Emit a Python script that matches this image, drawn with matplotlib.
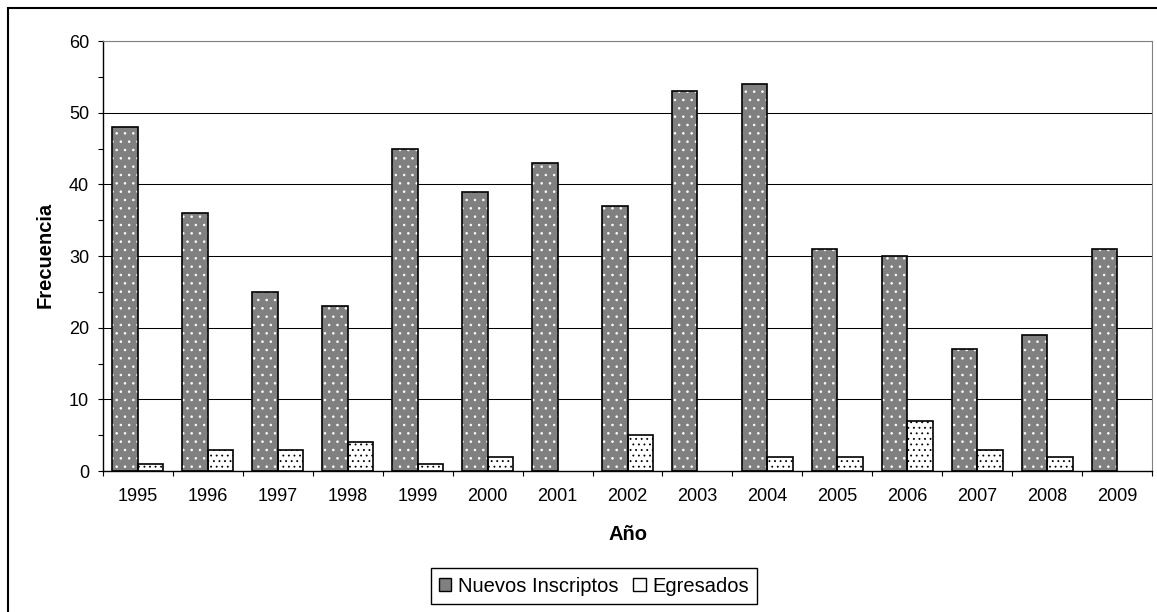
import numpy as np
import matplotlib.pyplot as plt
from matplotlib.patches import Patch, Rectangle

years = ['1995', '1996', '1997', '1998', '1999', '2000', '2001', '2002',
         '2003', '2004', '2005', '2006', '2007', '2008', '2009']
nuevos = [48, 36, 25, 23, 45, 39, 43, 37, 53, 54, 31, 30, 17, 19, 31]
egresados = [1, 3, 3, 4, 1, 2, 0, 5, 0, 2, 2, 7, 3, 2, 0]

plt.rcParams['font.family'] = ['Liberation Sans', 'DejaVu Sans']
plt.rcParams['hatch.linewidth'] = 0.6

W, H = 1157, 612
fig = plt.figure(figsize=(W / 100, H / 100), dpi=100)
ax = fig.add_axes([103 / W, 1 - 471 / H, (1152 - 103) / W, 430 / H])

x = np.arange(len(years))
w = 0.365

# fill + dots first, then the black outline on top (hatch takes the edge colour)
ax.bar(x - w / 2, nuevos, w, color='#808080', edgecolor='white', hatch='..', linewidth=0, zorder=2)
ax.bar(x - w / 2, nuevos, w, fill=False, edgecolor='black', linewidth=1.2, zorder=3)
eg = np.array(egresados)
ax.bar(x + w / 2, eg, w, color='white', edgecolor='black', hatch='...', linewidth=0, zorder=2)
ax.bar(x[eg > 0] + w / 2, eg[eg > 0], w, fill=False, edgecolor='black', linewidth=1.2, zorder=3)

ax.set_xlim(-0.5, len(years) - 0.5)
ax.set_ylim(0, 60)
ax.set_yticks(np.arange(0, 61, 10))
ax.set_yticks(np.arange(0, 61, 5), minor=True)
ax.yaxis.grid(True, which='major', color='black', linewidth=0.75, zorder=0)
ax.set_axisbelow(True)

# ticks on category borders, labels at the centres
ax.set_xticks(np.arange(-0.5, len(years), 1.0))
ax.set_xticklabels([])
ax.set_xticks(x, minor=True)
ax.set_xticklabels(years, minor=True, fontsize=13)
ax.tick_params(axis='x', which='major', direction='out', length=3.5, width=0.8)
ax.tick_params(axis='x', which='minor', length=0, pad=12)
ax.tick_params(axis='y', which='both', direction='out', length=3.5, width=0.8, labelsize=13, pad=6.5)

for s in ['top', 'right']:
    ax.spines[s].set_color('#808080')
for s in ['left', 'bottom']:
    ax.spines[s].set_color('black')
    ax.spines[s].set_linewidth(1.0)

fig.text(628 / W, 1 - 535 / H, 'Año', fontsize=14.5, fontweight='bold', ha='center', va='center')
fig.text(45.5 / W, 1 - 255 / H, 'Frecuencia', fontsize=14.5, fontweight='bold',
         rotation=90, ha='center', va='center')

handles = [Patch(facecolor='#808080', edgecolor='black', linewidth=1),
           Patch(facecolor='white', edgecolor='black', linewidth=1)]
fig.legend(handles, ['Nuevos Inscriptos', 'Egresados'], loc='center',
           bbox_to_anchor=(594 / W, 1 - 586 / H), ncol=2, fontsize=14.5,
           frameon=True, fancybox=False, edgecolor='black', framealpha=1,
           handlelength=0.6, handleheight=0.6, handletextpad=0.35,
           columnspacing=0.75, borderpad=0.4)

# outer chart border
fig.add_artist(Rectangle((8 / W, -0.1), 2, 1 - 8 / H + 0.1, transform=fig.transFigure,
                         fill=False, edgecolor='black', linewidth=1.5))

fig.savefig('out.png', dpi=100)
